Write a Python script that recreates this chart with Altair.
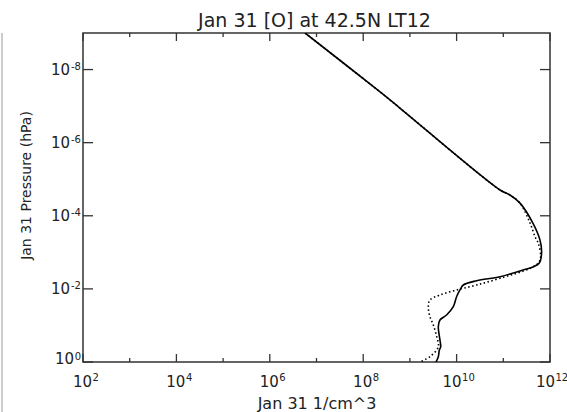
import altair as alt
import pandas as pd

# ---------------- data ----------------
title_text = "Jan 31 [O] at 42.5N LT12"
x_title = "Jan 31 1/cm^3"
y_title = "Jan 31 Pressure (hPa)"

# solid profile: pressure (hPa) and O number density (1/cm^3)
solid_p = [1.0e-9, 4.1e-8, 1.13e-7, 1.97e-5, 2.7e-5, 4.5e-5, 1.58e-4, 4.6e-4,
           1.04e-3, 1.96e-3, 2.52e-3, 3.05e-3, 4.65e-3, 5.97e-3, 7.83e-3,
           1.07e-2, 1.64e-2, 3.07e-2, 5.18e-2, 7.1e-2, 0.108, 0.25, 0.382,
           0.47, 0.716, 1.0]
solid_n = [5.7e6, 2.3e8, 6.1e8, 8.5e10, 1.39e11, 2.28e11, 4.3e11, 6.1e11,
           6.6e11, 5.9e11, 4.3e11, 2.64e11, 8.5e10, 2.69e10, 1.39e10,
           1.18e10, 1.0e10, 8.5e9, 6.1e9, 4.4e9, 4.06e9, 4.4e9, 4.57e9,
           4.27e9, 4.06e9, 3.62e9]

# dotted profile
dotted_p = [1.0e-9, 4.1e-8, 1.13e-7, 1.97e-5, 2.7e-5, 4.5e-5, 1.58e-4, 3.73e-4,
            5.66e-4, 1.32e-3, 1.96e-3, 2.74e-3, 5.14e-3, 7.83e-3, 1.07e-2,
            1.47e-2, 2.01e-2, 3.07e-2, 5.77e-2, 9.7e-2, 0.203, 0.382, 0.716, 1.0]
dotted_n = [5.7e6, 2.3e8, 6.1e8, 8.5e10, 1.39e11, 2.28e11, 3.73e11, 4.78e11,
            5.62e11, 6.3e11, 5.62e11, 3.73e11, 8.5e10, 2.69e10, 1.0e10,
            4.4e9, 2.69e9, 2.48e9, 2.69e9, 3.17e9, 3.75e9, 4.06e9, 2.69e9, 1.64e9]

# tick positions and labels (base "10" with an exponent)
x_major = [1e2, 1e4, 1e6, 1e8, 1e10, 1e12]
x_major_exps = ["2", "4", "6", "8", "10", "12"]
x_minor = [1e3, 1e5, 1e7, 1e9, 1e11]
y_major = [1e-8, 1e-6, 1e-4, 1e-2, 1e0]
y_major_exps = ["-8", "-6", "-4", "-2", "0"]
label_base = "10"

# ---------------- layout ----------------
W, H = 467, 329
FONT = "DejaVu Sans"
TXT = "#222222"
FRAME = "#333333"
LAB = 15      # size of the "10"
SUP = 10      # size of the exponent

xscale = alt.Scale(type="log", domain=[1e2, 1e12], nice=False)
yscale = alt.Scale(type="log", domain=[1e-9, 1], reverse=True, nice=False)

x_axis = alt.Axis(values=x_major, labels=False, ticks=False, tickSize=0,
                  domain=False, grid=False,
                  title=x_title, titleFont=FONT, titleFontSize=16,
                  titleFontWeight="normal", titleColor=TXT,
                  titleBaseline="alphabetic", titleX=W / 2, titleY=46)
y_axis = alt.Axis(values=y_major, labels=False, ticks=False, tickSize=0,
                  domain=False, grid=False,
                  title=y_title, titleFont=FONT, titleFontSize=14,
                  titleFontWeight="normal", titleColor=TXT, titleAngle=270,
                  titleBaseline="alphabetic", titleX=-53, titleY=152)

df_solid = pd.DataFrame({"p": solid_p, "n": solid_n, "i": range(len(solid_p))})
df_dot = pd.DataFrame({"p": dotted_p, "n": dotted_n, "i": range(len(dotted_p))})

dotted = alt.Chart(df_dot).mark_line(
    color="black", strokeWidth=1.6, strokeDash=[1.5, 2.5],
    interpolate="catmull-rom", clip=True
).encode(
    x=alt.X("n:Q", scale=xscale, axis=x_axis),
    y=alt.Y("p:Q", scale=yscale, axis=y_axis),
    order="i:Q",
)

solid = alt.Chart(df_solid).mark_line(
    color="black", strokeWidth=1.6, interpolate="catmull-rom", clip=True
).encode(
    x=alt.X("n:Q", scale=xscale, axis=x_axis),
    y=alt.Y("p:Q", scale=yscale, axis=y_axis),
    order="i:Q",
)


def xticks(vals, y0, y1):
    return alt.Chart(pd.DataFrame({"n": vals})).mark_rule(
        color=FRAME, strokeWidth=1.3
    ).encode(x=alt.X("n:Q", scale=xscale, axis=x_axis),
             y=alt.value(y0), y2=alt.value(y1))


def yticks(vals, x0, x1):
    return alt.Chart(pd.DataFrame({"p": vals})).mark_rule(
        color=FRAME, strokeWidth=1.3
    ).encode(y=alt.Y("p:Q", scale=yscale, axis=y_axis),
             x=alt.value(x0), x2=alt.value(x1))


ticks = [
    xticks(x_major, H, H - 8), xticks(x_minor, H, H - 4),
    xticks(x_major, 0, 8), xticks(x_minor, 0, 4),
    yticks(y_major, 0, 10), yticks(y_major, W, W - 10),
]

# ---------------- tick labels: "10" + raised exponent ----------------
df_xl = pd.DataFrame({"n": x_major, "e": x_major_exps, "b": label_base})
df_yl = pd.DataFrame({"p": y_major, "e": y_major_exps, "b": label_base})


def xlabels(df, dx):
    base = alt.Chart(df).mark_text(
        font=FONT, fontSize=LAB, color=TXT, align="right",
        baseline="alphabetic", dx=dx
    ).encode(x=alt.X("n:Q", scale=xscale, axis=x_axis),
             y=alt.value(H + 24.5), text="b:N")
    sup = alt.Chart(df).mark_text(
        font=FONT, fontSize=SUP, color=TXT, align="left",
        baseline="alphabetic", dx=dx + 0.5
    ).encode(x=alt.X("n:Q", scale=xscale, axis=x_axis),
             y=alt.value(H + 19), text="e:N")
    return [base, sup]


def ylabels(df, sup_w, dy):
    base = alt.Chart(df).mark_text(
        font=FONT, fontSize=LAB, color=TXT, align="right",
        baseline="alphabetic", dy=dy
    ).encode(y=alt.Y("p:Q", scale=yscale, axis=y_axis),
             x=alt.value(-2.5 - sup_w), text="b:N")
    sup = alt.Chart(df).mark_text(
        font=FONT, fontSize=SUP, color=TXT, align="right",
        baseline="alphabetic", dy=dy - 4.5
    ).encode(y=alt.Y("p:Q", scale=yscale, axis=y_axis),
             x=alt.value(-2), text="e:N")
    return [base, sup]


one_digit = df_xl["e"].str.len() == 1
label_layers = (
    xlabels(df_xl[one_digit], 9) + xlabels(df_xl[~one_digit], 5)
    + ylabels(df_yl[df_yl["e"] != "0"], 10.5, 5)
    + ylabels(df_yl[df_yl["e"] == "0"], 6.5, 2)
)

title = alt.Chart(pd.DataFrame({"t": [title_text]})).mark_text(
    font=FONT, fontSize=19, color=TXT, align="center", baseline="alphabetic"
).encode(x=alt.value(W / 2 - 2), y=alt.value(-6), text="t:N")

edge = alt.Chart(pd.DataFrame({"a": [0]})).mark_rule(
    color="#bbbbbb", strokeWidth=1.5
).encode(x=alt.value(-81), y=alt.value(0), y2=alt.value(379))

chart = alt.layer(dotted, solid, *ticks, *label_layers, title, edge).properties(
    width=W, height=H,
    autosize=alt.AutoSizeParams(type="none"),
    padding={"left": 83, "top": 33, "right": 17, "bottom": 50},
    background="white",
).configure_view(stroke=FRAME, strokeWidth=1.5)

chart.save("out.html", embed_options={"renderer": "svg", "actions": False})
